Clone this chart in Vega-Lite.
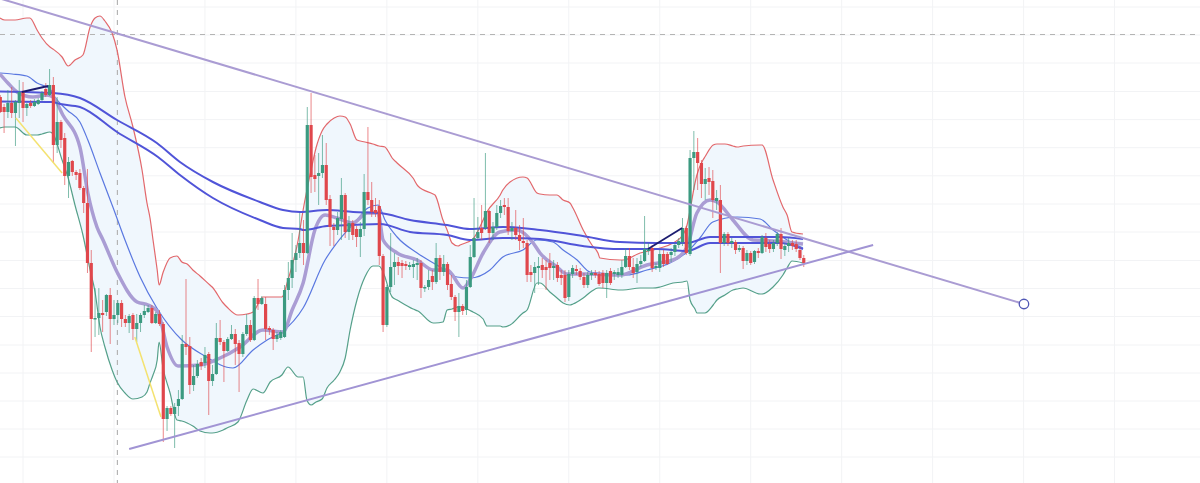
{"$schema":"https://vega.github.io/schema/vega-lite/v6.json","width":1200,"height":483,"padding":0,"autosize":{"type":"none"},"background":"#ffffff","view":{"stroke":null},
"datasets":{
"gridX":[{"i":6},{"i":30},{"i":54},{"i":78},{"i":102},{"i":126},{"i":150},{"i":174},{"i":198},{"i":222},{"i":246},{"i":270},{"i":294}],
"gridY":[{"p":26},{"p":54},{"p":82},{"p":110},{"p":138},{"p":166.5},{"p":194.5},{"p":222.5},{"p":251},{"p":279},{"p":307.2},{"p":335.3},{"p":363.4},{"p":391.5},{"p":420},{"p":448},{"p":476}],
"band":[{"i":-0.1,"u":465,"d":355},{"i":1.2,"u":463,"d":356},{"i":3.9,"u":463,"d":356},{"i":7,"u":465,"d":348},{"i":7.8,"u":465,"d":348},{"i":9.7,"u":453,"d":348},{"i":11,"u":445,"d":349},{"i":13.1,"u":436,"d":351},{"i":13.9,"u":434,"d":349},{"i":16.3,"u":426,"d":323},{"i":17.9,"u":417,"d":305},{"i":19.7,"u":423,"d":278},{"i":21.8,"u":428,"d":248},{"i":23.7,"u":456,"d":213},{"i":25,"u":465,"d":191},{"i":26.3,"u":467,"d":156},{"i":27.6,"u":462,"d":136},{"i":29.5,"u":450,"d":113},{"i":30.8,"u":433,"d":101},{"i":32.9,"u":386,"d":90},{"i":35,"u":356,"d":84},{"i":37.4,"u":313,"d":86},{"i":38.7,"u":280,"d":91},{"i":39.5,"u":265,"d":100},{"i":40.3,"u":243,"d":108},{"i":41.4,"u":213,"d":123},{"i":41.9,"u":198,"d":141},{"i":42.9,"u":210,"d":116},{"i":44.8,"u":225,"d":90},{"i":46.6,"u":227,"d":63},{"i":47.9,"u":221,"d":62},{"i":49.3,"u":219,"d":60},{"i":50.8,"u":213,"d":57},{"i":52.7,"u":207,"d":52},{"i":55.3,"u":198,"d":50},{"i":55.9,"u":196,"d":50},{"i":58.8,"u":180,"d":53},{"i":59.8,"u":176,"d":55},{"i":62.7,"u":168,"d":61},{"i":65.1,"u":169,"d":83},{"i":66.7,"u":171,"d":94},{"i":69.3,"u":186,"d":90},{"i":71.2,"u":186,"d":101},{"i":74.3,"u":186,"d":108},{"i":75.9,"u":203,"d":116},{"i":78.6,"u":243,"d":106},{"i":79.9,"u":273,"d":106},{"i":80.9,"u":293,"d":83},{"i":82,"u":313,"d":78},{"i":83.3,"u":335,"d":81},{"i":84.9,"u":352,"d":84},{"i":86.2,"u":359,"d":95},{"i":88.1,"u":365,"d":103},{"i":89.6,"u":367,"d":111},{"i":91,"u":366,"d":125},{"i":92.3,"u":359,"d":153},{"i":94.1,"u":343,"d":183},{"i":96.2,"u":341,"d":206},{"i":98.3,"u":339,"d":217},{"i":99.9,"u":337,"d":217},{"i":101.5,"u":336,"d":206},{"i":102.3,"u":332,"d":196},{"i":103.4,"u":325,"d":186},{"i":104.7,"u":320,"d":183},{"i":108.9,"u":305,"d":174},{"i":110.2,"u":297,"d":172},{"i":114.2,"u":289,"d":160},{"i":114.7,"u":288,"d":160},{"i":116.8,"u":263,"d":161},{"i":117.9,"u":253,"d":173},{"i":119.2,"u":240,"d":174},{"i":120.8,"u":237,"d":176},{"i":121.3,"u":238,"d":176},{"i":124.7,"u":244,"d":171},{"i":127.4,"u":263,"d":164},{"i":128.4,"u":271,"d":157},{"i":131.9,"u":288,"d":157},{"i":132.6,"u":293,"d":156},{"i":134.5,"u":301,"d":158},{"i":137.9,"u":306,"d":170},{"i":139,"u":305,"d":173},{"i":141.6,"u":290,"d":200},{"i":142.4,"u":289,"d":200},{"i":145,"u":288,"d":191},{"i":146.9,"u":288,"d":185},{"i":148.5,"u":283,"d":180},{"i":150.3,"u":280,"d":178},{"i":151.1,"u":275,"d":179},{"i":153.8,"u":253,"d":185},{"i":156.1,"u":238,"d":192},{"i":157.7,"u":230,"d":195},{"i":158.2,"u":225,"d":195},{"i":163.5,"u":223,"d":193},{"i":164.3,"u":223,"d":193},{"i":168.8,"u":230,"d":195},{"i":172.2,"u":233,"d":195},{"i":174.1,"u":235,"d":196},{"i":177.5,"u":240,"d":200},{"i":180.1,"u":248,"d":201},{"i":181.2,"u":258,"d":202},{"i":182,"u":273,"d":183},{"i":183.3,"u":300,"d":174},{"i":183.8,"u":308,"d":170},{"i":185.4,"u":323,"d":170},{"i":185.9,"u":326,"d":170},{"i":188.1,"u":338,"d":178},{"i":189.1,"u":339,"d":183},{"i":191.2,"u":339,"d":188},{"i":193.3,"u":337,"d":193},{"i":194.4,"u":336,"d":194},{"i":196,"u":337,"d":195},{"i":200.5,"u":338,"d":189},{"i":201,"u":338,"d":189},{"i":203.9,"u":303,"d":196},{"i":206.5,"u":276,"d":208},{"i":207.6,"u":268,"d":215},{"i":208.9,"u":251,"d":222},{"i":211.8,"u":249,"d":220}],
"ma20":[{"i":-0.1,"p":410},{"i":3.1,"p":409},{"i":7,"p":407},{"i":9.7,"p":400},{"i":13.1,"p":394},{"i":14.4,"p":386},{"i":17.6,"p":373},{"i":21,"p":361},{"i":23.1,"p":343},{"i":26.3,"p":310},{"i":29.7,"p":276},{"i":32.9,"p":243},{"i":36.9,"p":206},{"i":41.3,"p":175},{"i":47.9,"p":143},{"i":53.5,"p":128},{"i":61.4,"p":115},{"i":66.7,"p":133},{"i":70.4,"p":143},{"i":74.3,"p":151},{"i":79.9,"p":175},{"i":85.7,"p":223},{"i":88.8,"p":240},{"i":94.1,"p":263},{"i":97,"p":275},{"i":99.7,"p":278},{"i":101.5,"p":263},{"i":104.7,"p":246},{"i":110,"p":230},{"i":115.2,"p":218},{"i":120.5,"p":206},{"i":124,"p":205},{"i":129.2,"p":213},{"i":132.6,"p":226},{"i":137.9,"p":233},{"i":141.6,"p":243},{"i":145.8,"p":241},{"i":148.5,"p":233},{"i":152.2,"p":223},{"i":155.6,"p":211},{"i":158.2,"p":210},{"i":165.4,"p":208},{"i":170.6,"p":213},{"i":176.7,"p":220},{"i":181.2,"p":231},{"i":184.6,"p":245},{"i":188,"p":261},{"i":194.4,"p":266},{"i":200.5,"p":264},{"i":203.9,"p":253},{"i":207.6,"p":243},{"i":211.8,"p":235}],
"ma10":[{"i":-0.1,"p":409},{"i":2,"p":400},{"i":4.4,"p":391},{"i":8.6,"p":386},{"i":12.3,"p":388},{"i":13.9,"p":386},{"i":16.5,"p":368},{"i":21,"p":336},{"i":23.1,"p":290},{"i":25.5,"p":256},{"i":27.1,"p":243},{"i":30.8,"p":211},{"i":36.1,"p":181},{"i":39,"p":178},{"i":41.6,"p":171},{"i":44,"p":136},{"i":46.9,"p":117},{"i":52.7,"p":118},{"i":58,"p":125},{"i":63.3,"p":136},{"i":69.3,"p":153},{"i":74.6,"p":151},{"i":77,"p":173},{"i":79.9,"p":200},{"i":83,"p":253},{"i":85.7,"p":268},{"i":88.8,"p":265},{"i":93,"p":260},{"i":96.8,"p":270},{"i":99.7,"p":270},{"i":101,"p":243},{"i":104.7,"p":230},{"i":110,"p":223},{"i":114.2,"p":213},{"i":117.9,"p":213},{"i":122.1,"p":195},{"i":123.9,"p":203},{"i":127.4,"p":230},{"i":131.8,"p":251},{"i":136.3,"p":253},{"i":140.6,"p":240},{"i":142.4,"p":230},{"i":146.9,"p":216},{"i":149.5,"p":209},{"i":154.8,"p":209},{"i":163.5,"p":208},{"i":170.6,"p":218},{"i":177.5,"p":223},{"i":181.2,"p":236},{"i":183.8,"p":270},{"i":187.3,"p":283},{"i":189.1,"p":281},{"i":193.3,"p":263},{"i":198.6,"p":243},{"i":203.9,"p":242},{"i":211.8,"p":239}],
"maA":[{"i":-0.1,"p":391.5},{"i":6.5,"p":391},{"i":13.9,"p":390},{"i":21,"p":385},{"i":30.8,"p":363},{"i":41.3,"p":340},{"i":47.4,"p":321},{"i":56.1,"p":301},{"i":68.5,"p":281},{"i":74.6,"p":273},{"i":79.1,"p":271},{"i":86.2,"p":273},{"i":93.1,"p":271},{"i":100.2,"p":270},{"i":108.1,"p":263},{"i":117.9,"p":258},{"i":123.9,"p":254},{"i":132.6,"p":256},{"i":142.4,"p":253},{"i":153.7,"p":247},{"i":163.5,"p":241},{"i":173.3,"p":240},{"i":181.2,"p":240},{"i":187.3,"p":246},{"i":195.2,"p":246},{"i":205.7,"p":246},{"i":211.8,"p":244}],
"maB":[{"i":-0.1,"p":381.5},{"i":13.6,"p":381},{"i":15.8,"p":379},{"i":21,"p":376},{"i":30.8,"p":351},{"i":41.6,"p":326},{"i":47.4,"p":308},{"i":56.1,"p":285},{"i":68.5,"p":263},{"i":74.6,"p":255},{"i":79.1,"p":254},{"i":79.9,"p":253},{"i":86.2,"p":257},{"i":93.1,"p":258},{"i":100.2,"p":259},{"i":108.1,"p":251},{"i":117.9,"p":248},{"i":123.9,"p":243},{"i":132.6,"p":245},{"i":142.4,"p":244},{"i":153.7,"p":237},{"i":163.5,"p":234},{"i":173.3,"p":234},{"i":181.2,"p":232},{"i":187.3,"p":240},{"i":195.2,"p":240},{"i":205.7,"p":240},{"i":211.8,"p":234}],
"candles":[{"i":0,"o":386,"c":371,"h":388,"l":370},{"i":1,"o":376,"c":371,"h":379,"l":350},{"i":2,"o":371,"c":380,"h":393,"l":365},{"i":3,"o":380,"c":370,"h":396,"l":365},{"i":4,"o":370,"c":381,"h":383,"l":337},{"i":5,"o":380,"c":391,"h":403,"l":365},{"i":6,"o":391,"c":375,"h":401,"l":361},{"i":7,"o":375,"c":379,"h":380,"l":367},{"i":8,"o":380,"c":377,"h":383,"l":375},{"i":9,"o":377,"c":381,"h":384,"l":376},{"i":10,"o":379,"c":383,"h":385,"l":378},{"i":11,"o":383,"c":390,"h":392,"l":382},{"i":12,"o":394,"c":388,"h":400,"l":386},{"i":13,"o":388,"c":398,"h":414,"l":387},{"i":14,"o":398,"c":338,"h":406,"l":320},{"i":15,"o":338,"c":361,"h":386,"l":330},{"i":16,"o":361,"c":343,"h":363,"l":335},{"i":17,"o":345,"c":307,"h":350,"l":298},{"i":18,"o":307,"c":321,"h":326,"l":285},{"i":19,"o":322,"c":311,"h":323,"l":307},{"i":20,"o":311,"c":308,"h":313,"l":303},{"i":21,"o":310,"c":295,"h":314,"l":293},{"i":22,"o":295,"c":280,"h":297,"l":270},{"i":23,"o":280,"c":220,"h":314,"l":210},{"i":24,"o":220,"c":164,"h":233,"l":131},{"i":25,"o":163.5,"c":165,"h":195,"l":146},{"i":26,"o":165,"c":170,"h":195,"l":148},{"i":27,"o":170,"c":168,"h":183,"l":151},{"i":28,"o":171,"c":188,"h":189,"l":167},{"i":29,"o":188,"c":164,"h":195,"l":139},{"i":30,"o":164,"c":168,"h":183,"l":158},{"i":31,"o":168,"c":180,"h":183,"l":160},{"i":32,"o":180,"c":164,"h":183,"l":156},{"i":33,"o":164,"c":160,"h":168,"l":156},{"i":34,"o":160,"c":167,"h":169,"l":150},{"i":35,"o":168,"c":154,"h":170,"l":143},{"i":36,"o":154,"c":160,"h":169,"l":141},{"i":37,"o":160,"c":168,"h":170,"l":151},{"i":38,"o":168,"c":172,"h":178,"l":165},{"i":39,"o":171,"c":175,"h":178,"l":170},{"i":40,"o":175,"c":160,"h":178,"l":159},{"i":41,"o":160,"c":169,"h":171,"l":159},{"i":42,"o":169,"c":159,"h":173,"l":157},{"i":43,"o":159,"c":64,"h":161,"l":41},{"i":44,"o":64,"c":75,"h":77,"l":52},{"i":45,"o":75,"c":69,"h":77,"l":67},{"i":46,"o":69,"c":76,"h":80,"l":35},{"i":47,"o":77,"c":84,"h":93,"l":67},{"i":48,"o":84,"c":139,"h":148,"l":83},{"i":49,"o":139,"c":136,"h":204,"l":128},{"i":50,"o":137,"c":98,"h":146,"l":89},{"i":51,"o":98,"c":107,"h":118,"l":92},{"i":52,"o":107,"c":119,"h":123,"l":105},{"i":53,"o":121,"c":117,"h":125,"l":113},{"i":54,"o":120,"c":128,"h":136,"l":115},{"i":55,"o":129,"c":102,"h":131,"l":68},{"i":56,"o":102,"c":109,"h":118,"l":97},{"i":57,"o":109,"c":145,"h":160,"l":108},{"i":58,"o":145,"c":141,"h":163,"l":138},{"i":59,"o":141,"c":132,"h":143,"l":101},{"i":60,"o":132,"c":144,"h":146,"l":131},{"i":61,"o":144,"c":149,"h":158,"l":143},{"i":62,"o":149,"c":139,"h":154,"l":118},{"i":63,"o":140,"c":129,"h":143,"l":91},{"i":64,"o":129,"c":149,"h":151,"l":126},{"i":65,"o":149,"c":158,"h":169,"l":147},{"i":66,"o":158,"c":143,"h":163,"l":141},{"i":67,"o":143,"c":185,"h":187,"l":142},{"i":68,"o":185,"c":179,"h":204,"l":173},{"i":69,"o":179,"c":185,"h":187,"l":178},{"i":70,"o":179,"c":154,"h":186,"l":143},{"i":71,"o":155,"c":153,"h":157,"l":148},{"i":72,"o":153,"c":144,"h":155,"l":133},{"i":73,"o":144,"c":148,"h":151,"l":141},{"i":74,"o":145,"c":151,"h":153,"l":143},{"i":75,"o":146,"c":193,"h":198,"l":145},{"i":76,"o":193,"c":205,"h":221,"l":183},{"i":77,"o":205,"c":223,"h":250,"l":195},{"i":78,"o":223,"c":230,"h":238,"l":211},{"i":79,"o":230,"c":240,"h":270,"l":225},{"i":80,"o":240,"c":230,"h":263,"l":218},{"i":81,"o":230,"c":358,"h":376,"l":229},{"i":82,"o":358,"c":306,"h":390,"l":290},{"i":83,"o":308,"c":304,"h":328,"l":291},{"i":84,"o":307,"c":310,"h":330,"l":278},{"i":85,"o":310,"c":318,"h":348,"l":305},{"i":86,"o":318,"c":283,"h":340,"l":278},{"i":87,"o":284,"c":256,"h":288,"l":237},{"i":88,"o":256,"c":253,"h":260,"l":237},{"i":89,"o":253,"c":265,"h":271,"l":248},{"i":90,"o":264,"c":288,"h":305,"l":243},{"i":91,"o":288,"c":251,"h":290,"l":245},{"i":92,"o":251,"c":260,"h":267,"l":243},{"i":93,"o":260,"c":248,"h":263,"l":243},{"i":94,"o":254,"c":246,"h":257,"l":236},{"i":95,"o":246,"c":254,"h":261,"l":226},{"i":96,"o":254,"c":291,"h":309,"l":247},{"i":97,"o":291,"c":283,"h":356,"l":278},{"i":98,"o":283,"c":271,"h":301,"l":266},{"i":99,"o":273,"c":270,"h":285,"l":266},{"i":100,"o":277,"c":227,"h":283,"l":218},{"i":101,"o":227,"c":158,"h":229,"l":151},{"i":102,"o":158,"c":196,"h":198,"l":156},{"i":103,"o":196,"c":216,"h":250,"l":191},{"i":104,"o":216,"c":221,"h":230,"l":198},{"i":105,"o":221,"c":217,"h":226,"l":208},{"i":106,"o":220,"c":217,"h":223,"l":205},{"i":107,"o":219,"c":217,"h":222,"l":213},{"i":108,"o":216,"c":218,"h":221,"l":213},{"i":109,"o":216,"c":219,"h":223,"l":205},{"i":110,"o":218,"c":220,"h":225,"l":203},{"i":111,"o":220,"c":195,"h":223,"l":185},{"i":112,"o":194.5,"c":196,"h":198,"l":191},{"i":113,"o":196,"c":203,"h":213,"l":193},{"i":114,"o":207,"c":201,"h":213,"l":193},{"i":115,"o":201,"c":225,"h":240,"l":199},{"i":116,"o":225,"c":211,"h":228,"l":203},{"i":117,"o":211,"c":219,"h":228,"l":207},{"i":118,"o":219,"c":198,"h":221,"l":193},{"i":119,"o":199,"c":186,"h":208,"l":183},{"i":120,"o":186,"c":171,"h":188,"l":162},{"i":121,"o":171,"c":177,"h":190,"l":146},{"i":122,"o":177,"c":172,"h":179,"l":168},{"i":123,"o":173,"c":196,"h":203,"l":168},{"i":124,"o":196,"c":226,"h":238,"l":195},{"i":125,"o":226,"c":245,"h":285,"l":225},{"i":126,"o":245,"c":251,"h":266,"l":243},{"i":127,"o":255,"c":250,"h":278,"l":243},{"i":128,"o":255,"c":272,"h":330,"l":253},{"i":129,"o":272,"c":250,"h":273,"l":240},{"i":130,"o":250,"c":256,"h":261,"l":243},{"i":131,"o":256,"c":270,"h":278,"l":253},{"i":132,"o":270,"c":277,"h":283,"l":265},{"i":133,"o":278,"c":276,"h":285,"l":268},{"i":134,"o":276,"c":252,"h":285,"l":248},{"i":135,"o":252,"c":255,"h":261,"l":243},{"i":136,"o":255,"c":248,"h":273,"l":243},{"i":137,"o":248,"c":242,"h":258,"l":233},{"i":138,"o":242,"c":240,"h":265,"l":235},{"i":139,"o":240,"c":208,"h":243,"l":201},{"i":140,"o":211,"c":208,"h":218,"l":201},{"i":141,"o":210,"c":216,"h":221,"l":190},{"i":142,"o":215,"c":217,"h":226,"l":198},{"i":143,"o":218,"c":213,"h":225,"l":205},{"i":144,"o":216,"c":213,"h":223,"l":193},{"i":145,"o":220,"c":215,"h":230,"l":203},{"i":146,"o":215,"c":217,"h":223,"l":203},{"i":147,"o":218,"c":205,"h":221,"l":201},{"i":148,"o":208,"c":205,"h":213,"l":198},{"i":149,"o":208,"c":185,"h":213,"l":181},{"i":150,"o":186,"c":209,"h":213,"l":182},{"i":151,"o":209,"c":215,"h":218,"l":205},{"i":152,"o":214,"c":212,"h":218,"l":208},{"i":153,"o":212,"c":206,"h":215,"l":203},{"i":154,"o":206,"c":198,"h":210,"l":195},{"i":155,"o":198,"c":208,"h":211,"l":195},{"i":156,"o":208,"c":210,"h":213,"l":203},{"i":157,"o":210,"c":208,"h":213,"l":205},{"i":158,"o":209,"c":199,"h":212,"l":197},{"i":159,"o":210,"c":200,"h":213,"l":195},{"i":160,"o":200,"c":210,"h":213,"l":185},{"i":161,"o":212,"c":200,"h":215,"l":198},{"i":162,"o":209,"c":211,"h":213,"l":203},{"i":163,"o":208,"c":211,"h":215,"l":205},{"i":164,"o":208,"c":216,"h":223,"l":205},{"i":165,"o":216,"c":227,"h":235,"l":215},{"i":166,"o":227,"c":216,"h":235,"l":213},{"i":167,"o":216,"c":210,"h":225,"l":205},{"i":168,"o":211,"c":219,"h":225,"l":200},{"i":169,"o":219,"c":222,"h":228,"l":216},{"i":170,"o":222,"c":234,"h":267,"l":221},{"i":171,"o":232,"c":234,"h":240,"l":228},{"i":172,"o":235,"c":215,"h":238,"l":211},{"i":173,"o":215,"c":217,"h":220,"l":213},{"i":174,"o":215,"c":229,"h":233,"l":211},{"i":175,"o":229,"c":219,"h":233,"l":216},{"i":176,"o":229,"c":219,"h":231,"l":218},{"i":177,"o":228,"c":231,"h":235,"l":221},{"i":178,"o":231,"c":238,"h":240,"l":227},{"i":179,"o":238,"c":242,"h":245,"l":235},{"i":180,"o":241,"c":255,"h":265,"l":237},{"i":181,"o":255,"c":230,"h":257,"l":228},{"i":182,"o":229,"c":325,"h":333,"l":227},{"i":183,"o":325,"c":331,"h":352,"l":293},{"i":184,"o":331,"c":320,"h":345,"l":293},{"i":185,"o":320,"c":299,"h":323,"l":285},{"i":186,"o":299,"c":304,"h":315,"l":283},{"i":187,"o":305,"c":301,"h":316,"l":288},{"i":188,"o":302,"c":283,"h":313,"l":265},{"i":189,"o":282,"c":285,"h":293,"l":273},{"i":190,"o":283,"c":240,"h":298,"l":210},{"i":191,"o":240,"c":249,"h":251,"l":237},{"i":192,"o":249,"c":240,"h":251,"l":237},{"i":193,"o":240,"c":242,"h":245,"l":235},{"i":194,"o":241,"c":233,"h":243,"l":229},{"i":195,"o":233,"c":235,"h":238,"l":231},{"i":196,"o":235,"c":222,"h":237,"l":214},{"i":197,"o":222,"c":230,"h":233,"l":218},{"i":198,"o":230,"c":220,"h":232,"l":218},{"i":199,"o":221,"c":232,"h":233,"l":219},{"i":200,"o":232,"c":230,"h":235,"l":225},{"i":201,"o":230,"c":246,"h":248,"l":229},{"i":202,"o":245,"c":236,"h":250,"l":231},{"i":203,"o":239,"c":234,"h":243,"l":230},{"i":204,"o":234,"c":240,"h":243,"l":231},{"i":205,"o":240,"c":249,"h":251,"l":237},{"i":206,"o":249,"c":234,"h":255,"l":224},{"i":207,"o":233,"c":237,"h":240,"l":227},{"i":208,"o":237,"c":240,"h":245,"l":231},{"i":209,"o":240,"c":237,"h":243,"l":233},{"i":210,"o":239,"c":234,"h":243,"l":231},{"i":211,"o":233,"c":225,"h":236,"l":223},{"i":212,"o":225,"c":220,"h":228,"l":216}],
"trendUp":[{"i":-0.1,"p":484.5},{"i":270.1,"p":179}],
"trendLow":[{"i":34,"p":34},{"i":230.3,"p":238}],
"yellow":[{"s":"a","i":4.1,"p":365},{"s":"a","i":16.3,"p":310},{"s":"b","i":35.5,"p":146},{"s":"b","i":42.4,"p":66}],
"navy":[{"s":"a","i":5.7,"p":391},{"s":"a","i":12.6,"p":397},{"s":"b","i":170.9,"p":234},{"s":"b","i":179.9,"p":255}],
"end":[{"i":270.1,"p":179}],
"crossX":[{"i":30.9}],
"crossY":[{"p":448.5}]
},
"encoding":{
"x":{"field":"i","type":"quantitative","scale":{"domain":[-0.08,316.55],"nice":false,"zero":false,"padding":0},"axis":null},
"y":{"field":"p","type":"quantitative","scale":{"domain":[0,483],"nice":false,"zero":false},"axis":null}
},
"layer":[
{"data":{"name":"gridX"},"mark":{"type":"rule","color":"#f2f3f5","strokeWidth":1},"encoding":{"y":{"value":0},"y2":{"value":483}}},
{"data":{"name":"gridY"},"mark":{"type":"rule","color":"#f2f3f5","strokeWidth":1},"encoding":{"x":{"value":0},"x2":{"value":1200}}},
{"data":{"name":"band"},"mark":{"type":"area","color":"#f0f7fd","interpolate":"monotone","clip":true},"encoding":{"y":{"field":"u","type":"quantitative","scale":{"domain":[0,483],"nice":false,"zero":false},"axis":null},"y2":{"field":"d"}}},
{"data":{"name":"crossY"},"mark":{"type":"rule","color":"#b4b4b4","strokeDash":[5,5],"strokeWidth":1.2},"encoding":{"x":{"value":0},"x2":{"value":1200}}},
{"data":{"name":"crossX"},"mark":{"type":"rule","color":"#b4b4b4","strokeDash":[5,5],"strokeWidth":1.2},"encoding":{"y":{"value":0},"y2":{"value":483}}},
{"data":{"name":"band"},"mark":{"type":"line","color":"#e2686c","strokeWidth":1.2,"interpolate":"monotone","clip":true},"encoding":{"y":{"field":"u","type":"quantitative","scale":{"domain":[0,483],"nice":false,"zero":false},"axis":null}}},
{"data":{"name":"band"},"mark":{"type":"line","color":"#55a08a","strokeWidth":1.2,"interpolate":"monotone","clip":true},"encoding":{"y":{"field":"d","type":"quantitative","scale":{"domain":[0,483],"nice":false,"zero":false},"axis":null}}},
{"data":{"name":"ma20"},"mark":{"type":"line","color":"#5a78e0","strokeWidth":1.2,"interpolate":"monotone"},"encoding":{}},
{"data":{"name":"ma10"},"mark":{"type":"line","color":"#aa9dd4","strokeWidth":3.5,"interpolate":"monotone"},"encoding":{}},
{"data":{"name":"maA"},"mark":{"type":"line","color":"#5054d8","strokeWidth":2,"interpolate":"monotone"},"encoding":{}},
{"data":{"name":"maB"},"mark":{"type":"line","color":"#5054d8","strokeWidth":2,"interpolate":"monotone"},"encoding":{}},
{"data":{"name":"candles"},"mark":{"type":"rule","strokeWidth":1,"opacity":0.65},"encoding":{"y":{"field":"h","type":"quantitative","scale":{"domain":[0,483],"nice":false,"zero":false},"axis":null},"y2":{"field":"l"},"color":{"condition":{"test":"datum.c>=datum.o","value":"#3b9a80"},"value":"#e0474c"}}},
{"data":{"name":"candles"},"mark":{"type":"bar","size":3.2},"encoding":{"y":{"field":"o","type":"quantitative","scale":{"domain":[0,483],"nice":false,"zero":false},"axis":null},"y2":{"field":"c"},"color":{"condition":{"test":"datum.c>=datum.o","value":"#3b9a80"},"value":"#e0474c"}}},
{"data":{"name":"yellow"},"mark":{"type":"line","color":"#f4e270","strokeWidth":1.5},"encoding":{"detail":{"field":"s"}}},
{"data":{"name":"navy"},"mark":{"type":"line","color":"#1c1c70","strokeWidth":1.8},"encoding":{"detail":{"field":"s"}}},
{"data":{"name":"trendUp"},"mark":{"type":"line","color":"#aa9cd3","strokeWidth":2,"clip":true},"encoding":{}},
{"data":{"name":"trendLow"},"mark":{"type":"line","color":"#a194d4","strokeWidth":2},"encoding":{}},
{"data":{"name":"end"},"mark":{"type":"point","shape":"circle","size":90,"filled":true,"fill":"#ffffff","stroke":"#5158b5","strokeWidth":1.3,"opacity":1},"encoding":{}}
]}
